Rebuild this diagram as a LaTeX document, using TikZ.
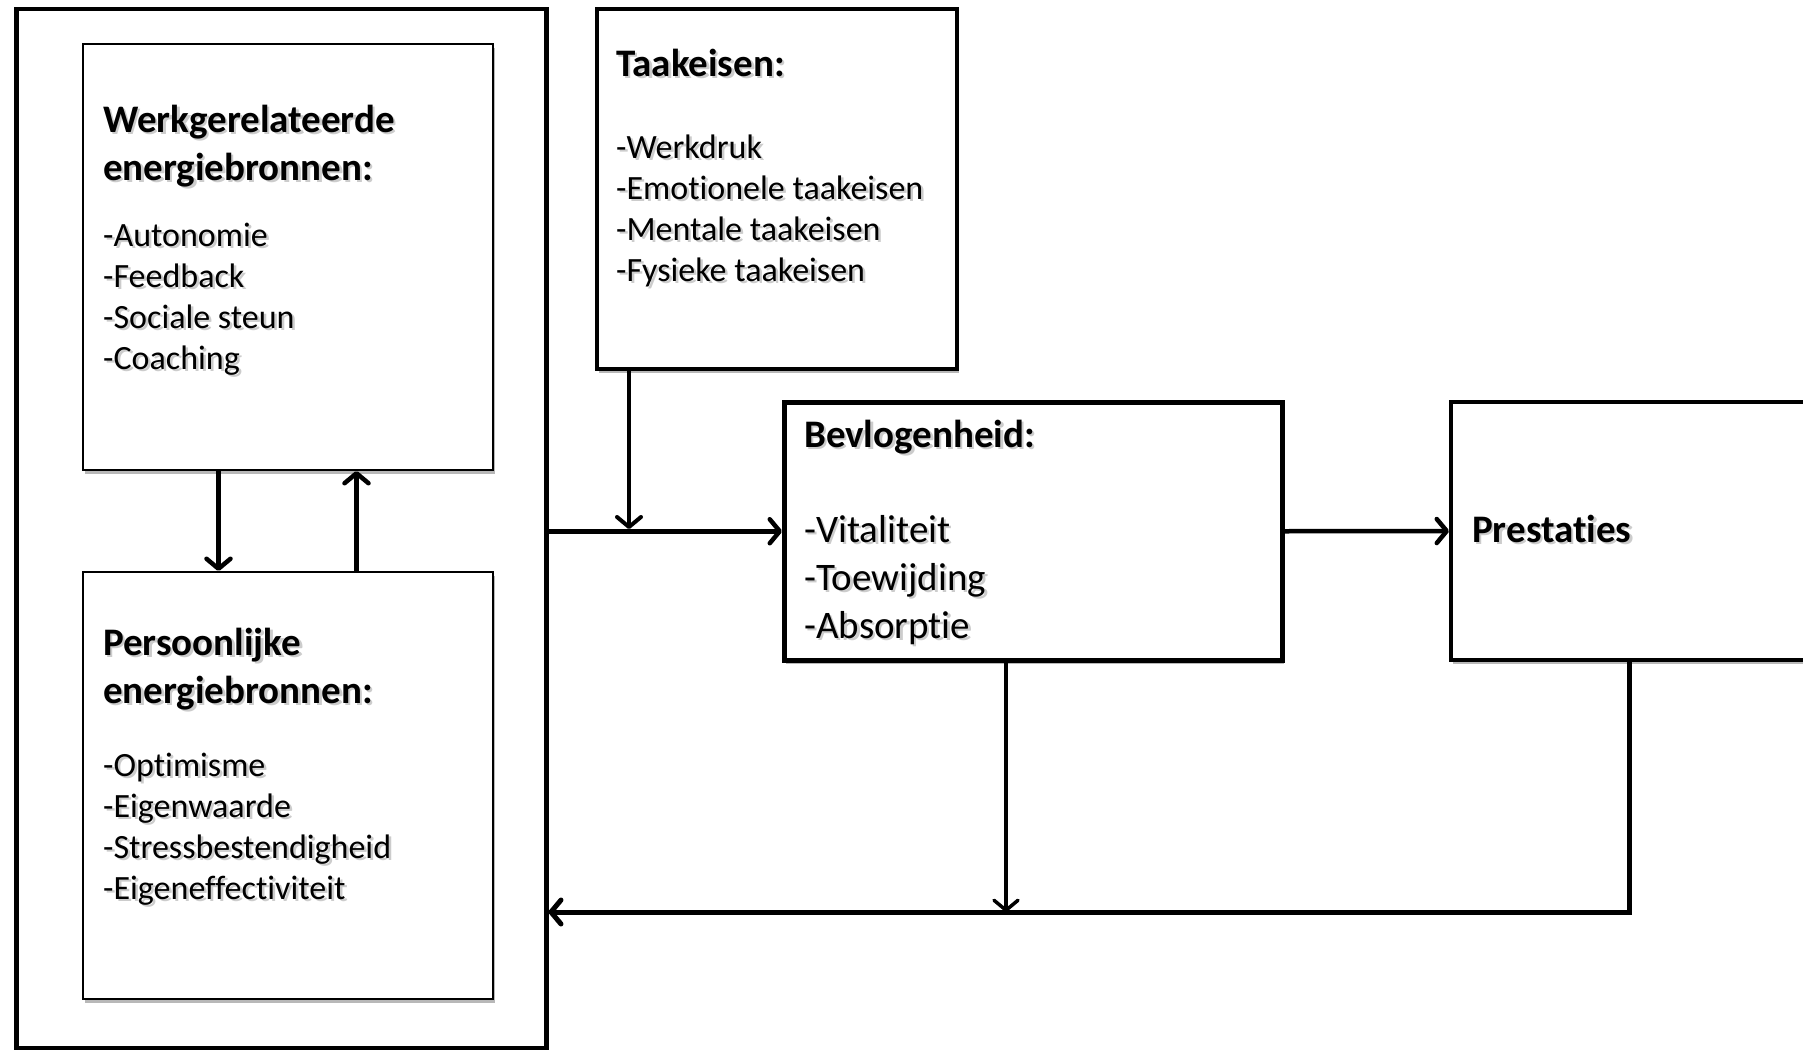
\documentclass[tikz,border=0pt]{standalone}
\usepackage{fontspec}
\setmainfont{Carlito}[Ligatures={NoCommon}]
\usetikzlibrary{arrows.meta,shadows}
\newcommand\shd[1]{\rlap{\kern2.5pt\raisebox{-2.5pt}{\color{black!20}#1}}#1}
\tikzset{
  boxshadow/.style={drop shadow={shadow xshift=2pt,shadow yshift=-4pt,opacity=0.28,fill=black}},
  thickbox/.style={draw,line width=4.5pt,fill=white,boxshadow,inner sep=0pt,anchor=north west},
  thinbox/.style={draw,line width=2pt,fill=white,boxshadow,inner sep=0pt,anchor=north west},
  arr/.style={-{Straight Barb[length=10pt,width=24pt,line cap=round,line join=round]},line width=4.5pt},
  ttl/.style={anchor=base west,inner sep=0pt,font=\fontsize{39}{48}\selectfont\bfseries},
  itm/.style={anchor=base west,inner sep=0pt,font=\fontsize{34}{41}\selectfont},
  bitm/.style={anchor=base west,inner sep=0pt,font=\fontsize{39}{48}\selectfont},
}
\begin{document}
\begin{tikzpicture}[x=1pt,y=-1pt]
\useasboundingbox (0,0) rectangle (1803,1049);
\clip (0,0) rectangle (1803,1049);
\fill[white] (0,0) rectangle (1803,1049);
% boxes
\node[thickbox,minimum width=530,minimum height=1039] (outer) at (14,7) {};
\node[thinbox,minimum width=410,minimum height=426] (werk) at (82,43) {};
\node[thinbox,minimum width=410,minimum height=427] (pers) at (82,571) {};
\node[thickbox,line width=4pt,minimum width=360,minimum height=360] (taak) at (594.5,7) {};
\node[thickbox,minimum width=498,minimum height=258] (bev) at (782,400) {};
\node[thickbox,line width=4pt,minimum width=380,minimum height=258] (prest) at (1449,400) {};
% texts
\node[ttl] (w1) at (103,132) {\shd{Werkgerelateerde}};
\node[ttl] (w2) at (103,180) {\shd{energiebronnen:}};
\node[itm] (wa) at (103,246) {\shd{-Autonomie}};
\node[itm] (wb) at (103,287) {\shd{-Feedback}};
\node[itm] (wc) at (103,328) {\shd{-Sociale steun}};
\node[itm] (wd) at (103,369) {\shd{-Coaching}};
\node[ttl] (p1) at (103,655) {\shd{Persoonlijke}};
\node[ttl] (p2) at (103,703) {\shd{energiebronnen:}};
\node[itm] (pa) at (103,776) {\shd{-Optimisme}};
\node[itm] (pb) at (103,817) {\shd{-Eigenwaarde}};
\node[itm] (pc) at (103,858) {\shd{-Stressbestendigheid}};
\node[itm] (pd) at (103,899) {\shd{-Eigeneffectiviteit}};
\node[ttl] (t1) at (616,76) {\shd{Taakeisen:}};
\node[itm] (ta) at (616,158) {\shd{-Werkdruk}};
\node[itm] (tb) at (616,199) {\shd{-Emotionele taakeisen}};
\node[itm] (tc) at (616,240) {\shd{-Mentale taakeisen}};
\node[itm] (td) at (616,281) {\shd{-Fysieke taakeisen}};
\node[ttl] (b1) at (804,447) {\shd{Bevlogenheid:}};
\node[bitm] (ba) at (804,542) {\shd{-Vitaliteit}};
\node[bitm] (bb) at (804,590) {\shd{-Toewijding}};
\node[bitm] (bc) at (804,638) {\shd{-Absorptie}};
\node[ttl] (r1) at (1472,542) {\shd{Prestaties}};
% connector helpers
\coordinate (a1) at (218.5,0);
\coordinate (a2) at (356.5,0);
\coordinate (tj) at (629,529);
\coordinate (bj) at (1006,912);
\coordinate (pj) at (1629.5,912);
% connectors
\draw[arr] (werk.south -| a1) -- (pers.north -| a1);
\draw[arr] (pers.north -| a2) -- (werk.south -| a2);
\draw[arr] (outer.east |- bev.west) -- (bev.west);
\draw[arr,line width=4pt] (taak.south -| tj) -- (tj);
\draw[arr] (bev.east) -- (prest.west);
\draw[arr,line width=3.5pt] (bev.south -| bj) -- (bj);
\draw[arr,line width=5pt] (prest.south -| pj) -- (pj) -- (outer.east |- pj);
\end{tikzpicture}
\end{document}
